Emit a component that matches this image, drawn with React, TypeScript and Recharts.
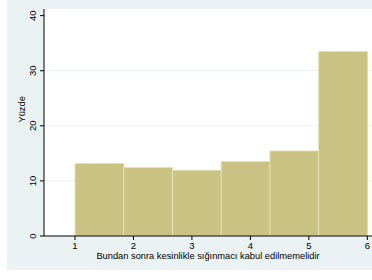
import { BarChart, Bar, XAxis, YAxis, CartesianGrid } from "recharts";

// histogram bins (edges on the 1..6 scale) and percent per bin
const binEdges = [1, 1.8333, 2.6667, 3.5, 4.3333, 5.1667, 6];
const percents = [13.16, 12.43, 11.95, 13.53, 15.45, 33.5];
const xTicks = [1, 2, 3, 4, 5, 6];
const yTicks = [0, 10, 20, 30, 40];

const xTitle = "Bundan sonra kesinlikle sığınmacı kabul edilmemelidir";
const yTitle = "Yüzde";

const data = percents.map((p, i) => ({
  mid: (binEdges[i] + binEdges[i + 1]) / 2,
  pct: p
}));

const font = "'Liberation Sans', Arial, sans-serif";

function YTick(props: any) {
  const { x, y, payload } = props;
  const bx = x - 2;
  return (
    <text
      x={bx}
      y={y}
      transform={`rotate(-90 ${bx} ${y})`}
      textAnchor="middle"
      fontSize={9.5}
      fontFamily={font}
      fill="#000"
    >
      {payload.value}
    </text>
  );
}

export default function App() {
  return (
    <div
      style={{
        position: "fixed",
        left: 0,
        top: 0,
        width: 372,
        height: 280,
        background: "#fff"
      }}
    >
      <div style={{ position: "absolute", left: 7, top: 0, background: "#eaf2f3" }}>
        <BarChart
          width={365}
          height={270}
          data={data}
          margin={{ top: 9, right: 0, left: 0, bottom: 0 }}
          barCategoryGap={0}
          barGap={0}
        >
          <CartesianGrid
            vertical={false}
            horizontalValues={[10, 20, 30]}
            stroke="#eaf2f3"
            fill="#fff"
          />
          <XAxis
            dataKey="mid"
            type="number"
            domain={[0.47, 6.08]}
            ticks={xTicks}
            allowDataOverflow
            height={34}
            tickSize={4}
            tickLine={{ stroke: "#000" }}
            axisLine={{ stroke: "#000" }}
            tick={{ fontSize: 9.5, fill: "#000", fontFamily: font }}
            label={{
              value: xTitle,
              position: "insideBottom",
              offset: 11,
              fontSize: 9.3,
              fill: "#000",
              fontFamily: font
            }}
          />
          <YAxis
            type="number"
            domain={[0, 41.2]}
            ticks={yTicks}
            allowDataOverflow
            width={37}
            tickSize={4}
            tickLine={{ stroke: "#000" }}
            axisLine={{ stroke: "#000" }}
            tick={<YTick />}
            label={{
              value: yTitle,
              angle: -90,
              position: "insideLeft",
              offset: 15,
              fontSize: 9.3,
              fill: "#000",
              fontFamily: font
            }}
          />
          <Bar
            dataKey="pct"
            fill="#cbc384"
            stroke="#e6e2b8"
            strokeWidth={1}
            isAnimationActive={false}
          />
        </BarChart>
      </div>
    </div>
  );
}
